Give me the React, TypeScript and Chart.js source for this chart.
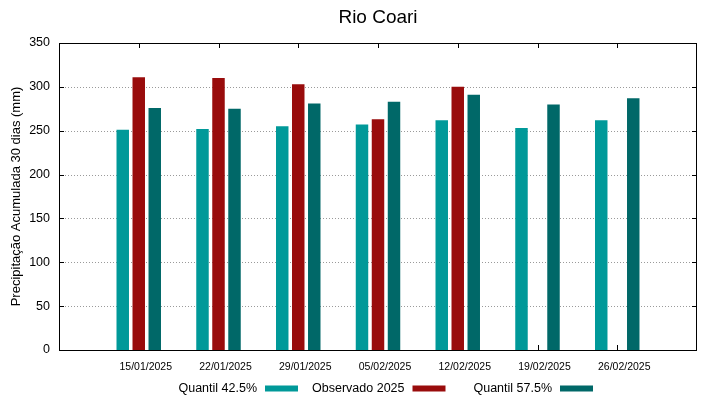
import React, { useEffect, useRef } from 'react';
import { Chart, registerables } from 'chart.js';

Chart.register(...registerables);

// ---- data ----
const chartTitle = 'Rio Coari';
const yAxisTitle = 'Precipitação Acumulada 30 dias (mm)';
const dates = ['15/01/2025', '22/01/2025', '29/01/2025', '05/02/2025', '12/02/2025', '19/02/2025', '26/02/2025'];
const quantil425 = [251, 252, 255, 257, 262, 253, 262];
const observado2025 = [311, 310, 303, 263, 300, null, null];
const quantil575 = [276, 275, 281, 283, 291, 280, 287];
const seriesNames = ['Quantil 42.5%', 'Observado 2025', 'Quantil 57.5%'];
const seriesColors = ['#009999', '#990c0c', '#006868'];
const yMin = 0;
const yMax = 350;
const yStep = 50;
const yTicks = [0, 50, 100, 150, 200, 250, 300, 350];

const FONT = "'Liberation Sans', Arial, sans-serif";

// padded category labels so that groups sit at positions 1..7 of 0..8
const labels = ['', ...dates, ''];
const pad = (arr: (number | null)[]) => [null, ...arr, null];

const framePlugin = {
  id: 'gnuplotFrame',
  beforeDatasetsDraw(chart: any) {
    const { ctx, chartArea: a, scales } = chart;
    const y = scales.y;
    const x = scales.x;
    ctx.save();
    // dotted grid
    ctx.strokeStyle = '#9a9a9a';
    ctx.lineWidth = 1;
    ctx.setLineDash([1, 2]);
    yTicks.forEach((v) => {
      if (v === yMin || v === yMax) return;
      const py = Math.round(y.getPixelForValue(v)) + 0.5;
      ctx.beginPath();
      ctx.moveTo(a.left, py);
      ctx.lineTo(a.right, py);
      ctx.stroke();
    });
    ctx.setLineDash([]);
    // inward ticks
    ctx.strokeStyle = '#000';
    const tl = 5;
    yTicks.forEach((v) => {
      const py = Math.round(y.getPixelForValue(v)) + 0.5;
      ctx.beginPath();
      ctx.moveTo(a.left, py);
      ctx.lineTo(a.left + tl, py);
      ctx.moveTo(a.right, py);
      ctx.lineTo(a.right - tl, py);
      ctx.stroke();
    });
    dates.forEach((_, i) => {
      const px = Math.round(x.getPixelForValue(i + 1)) + 0.5;
      ctx.beginPath();
      ctx.moveTo(px, a.bottom);
      ctx.lineTo(px, a.bottom - tl);
      ctx.moveTo(px, a.top);
      ctx.lineTo(px, a.top + tl);
      ctx.stroke();
    });
    ctx.restore();
  },
  afterDatasetsDraw(chart: any) {
    const { ctx, chartArea: a } = chart;
    ctx.save();
    // border box
    ctx.strokeStyle = '#000';
    ctx.lineWidth = 1;
    ctx.strokeRect(a.left + 0.5, a.top + 0.5, a.right - a.left - 1, a.bottom - a.top);
    // title
    const cx = (a.left + a.right) / 2;
    ctx.fillStyle = '#000';
    ctx.font = `19px ${FONT}`;
    ctx.textAlign = 'center';
    ctx.textBaseline = 'alphabetic';
    ctx.fillText(chartTitle, cx, 23);
    // legend (gnuplot style: text, then sample)
    ctx.font = `12.5px ${FONT}`;
    ctx.textAlign = 'right';
    seriesNames.forEach((name, i) => {
      const sx = cx + 34.5 + (i - 1) * 147.5;
      ctx.fillStyle = '#000';
      ctx.fillText(name, sx - 8, 392);
      ctx.fillStyle = seriesColors[i];
      ctx.fillRect(sx, 385.5, 33, 6);
    });
    ctx.restore();
  },
};

export default function App() {
  const ref = useRef<HTMLCanvasElement | null>(null);
  useEffect(() => {
    if (!ref.current) return;
    const series = [quantil425, observado2025, quantil575];
    const chart = new Chart(ref.current, {
      type: 'bar',
      data: {
        labels,
        datasets: series.map((s, i) => ({
          label: seriesNames[i],
          data: pad(s),
          backgroundColor: seriesColors[i],
          borderWidth: 0,
          categoryPercentage: 0.602,
          barPercentage: 0.78,
        })),
      },
      options: {
        responsive: false,
        animation: false,
        devicePixelRatio: 1,
        layout: { padding: { top: 43, right: 22, left: 0, bottom: 0 } },
        plugins: {
          legend: { display: false },
          title: { display: false },
          tooltip: { enabled: false },
        },
        scales: {
          x: {
            type: 'category',
            offset: false,
            grid: { display: false, drawTicks: false },
            border: { display: false },
            ticks: {
              autoSkip: false,
              maxRotation: 0,
              minRotation: 0,
              padding: 11,
              labelOffset: 7,
              color: '#000',
              font: { family: FONT, size: 10.5 },
            },
            afterFit(s: any) {
              s.height = 49;
            },
          },
          y: {
            min: yMin,
            max: yMax,
            grid: { display: false, drawTicks: false },
            border: { display: false },
            ticks: {
              stepSize: yStep,
              padding: 9,
              color: '#000',
              font: { family: FONT, size: 12.5 },
            },
            title: {
              display: true,
              text: yAxisTitle,
              color: '#000',
              font: { family: FONT, size: 13 },
              padding: { top: 8.2, bottom: 0 },
            },
            afterFit(s: any) {
              s.width = 59;
            },
          },
        },
      },
      plugins: [framePlugin],
    });
    return () => chart.destroy();
  }, []);
  return (
    <div style={{ position: 'fixed', left: 0, top: 0, width: 719, height: 399, background: '#fff' }}>
      <canvas ref={ref} width={719} height={399} />
    </div>
  );
}
